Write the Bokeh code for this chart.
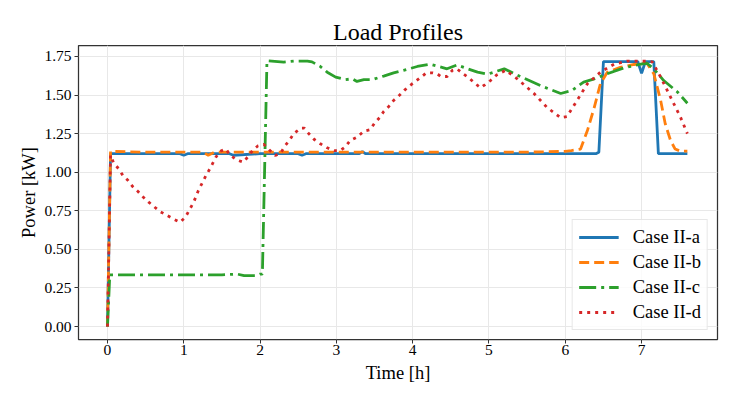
from bokeh.plotting import figure
from bokeh.models import Range1d, FixedTicker, NumeralTickFormatter, Legend, LegendItem
from bokeh.embed import file_html
from bokeh.resources import INLINE

# ---- data ----
t_a = [0, 0.04, 0.5, 0.95, 1.0, 1.05, 1.4, 1.6, 1.65, 2.0, 2.5, 2.55, 2.6, 3.0, 3.3, 3.34, 3.38,
       4.0, 4.5, 5.0, 5.5, 6.0, 6.4, 6.44, 6.5, 6.95, 7.0, 7.05, 7.16, 7.22, 7.6]
v_a = [0, 1.12, 1.12, 1.12, 1.11, 1.12, 1.12, 1.12, 1.11, 1.12, 1.12, 1.11, 1.12, 1.12, 1.12, 1.134, 1.12,
       1.12, 1.12, 1.12, 1.12, 1.12, 1.12, 1.13, 1.717, 1.717, 1.64, 1.717, 1.717, 1.12, 1.12]

t_b = [0, 0.04, 0.5, 1.0, 1.25, 1.32, 1.4, 2.0, 2.5, 3.0, 3.5, 4.0, 4.5, 5.0, 5.5, 6.0, 6.08, 6.2,
       6.29, 6.38, 6.46, 6.55, 6.72, 6.9, 7.07, 7.16, 7.25, 7.31, 7.38, 7.44, 7.51, 7.6]
v_b = [0, 1.135, 1.13, 1.13, 1.13, 1.11, 1.13, 1.13, 1.13, 1.13, 1.13, 1.13, 1.13, 1.13, 1.13, 1.135, 1.14, 1.15,
       1.27, 1.42, 1.573, 1.648, 1.68, 1.698, 1.706, 1.638, 1.465, 1.314, 1.205, 1.15, 1.136, 1.136]

t_c = [0, 0.03, 0.5, 1.0, 1.5, 1.7, 1.79, 1.95, 2.0, 2.03, 2.09, 2.31, 2.45, 2.62, 2.68, 2.79, 2.88, 2.99,
       3.12, 3.21, 3.27, 3.36, 3.47, 3.62, 3.75, 3.88, 4.06, 4.23, 4.34, 4.45, 4.58, 4.72, 4.85, 4.98,
       5.2, 5.41, 5.68, 5.94, 6.09, 6.24, 6.38, 6.55, 6.77, 6.99, 7.07, 7.16, 7.29, 7.47, 7.6]
v_c = [0, 0.335, 0.335, 0.335, 0.335, 0.34, 0.33, 0.33, 0.34, 0.34, 1.722, 1.713, 1.72, 1.72, 1.715, 1.685, 1.648, 1.616,
       1.60, 1.605, 1.588, 1.60, 1.60, 1.623, 1.644, 1.66, 1.685, 1.70, 1.685, 1.67, 1.695, 1.67, 1.648, 1.635,
       1.67, 1.62, 1.56, 1.51, 1.53, 1.584, 1.605, 1.638, 1.676, 1.70, 1.706, 1.67, 1.594, 1.52, 1.447]

t_d = [0, 0.04, 0.08, 0.15, 0.2, 0.27, 0.33, 0.40, 0.47, 0.54, 0.62, 0.69, 0.78, 0.88, 0.95, 1.02, 1.13,
       1.19, 1.28, 1.35, 1.42, 1.47, 1.55, 1.61, 1.69, 1.78, 1.84, 1.90, 1.97, 2.05, 2.13, 2.2, 2.27, 2.33,
       2.39, 2.44, 2.53, 2.58, 2.64, 2.71, 2.79, 2.88, 2.97, 3.05, 3.12, 3.18, 3.27, 3.36, 3.44, 3.50, 3.57,
       3.62, 3.69, 3.75, 3.83, 3.89, 3.96, 4.04, 4.11, 4.18, 4.26, 4.32, 4.37, 4.45, 4.52, 4.58, 4.66, 4.74,
       4.81, 4.89, 4.95, 5.02, 5.1, 5.22, 5.37, 5.59, 5.76, 5.94, 6.02, 6.11, 6.29, 6.46, 6.64, 6.81, 7.03,
       7.14, 7.25, 7.38, 7.51, 7.6]
v_d = [0, 1.11, 1.06, 1.02, 0.98, 0.946, 0.907, 0.875, 0.838, 0.806, 0.773, 0.745, 0.72, 0.693, 0.676, 0.708, 0.806,
       0.88, 0.968, 1.03, 1.097, 1.134, 1.15, 1.11, 1.08, 1.065, 1.10, 1.14, 1.17, 1.18, 1.14, 1.108, 1.125, 1.173,
       1.21, 1.249, 1.285, 1.285, 1.249, 1.212, 1.184, 1.158, 1.14, 1.14, 1.166, 1.205, 1.227, 1.266, 1.275, 1.318, 1.356,
       1.393, 1.428, 1.465, 1.50, 1.53, 1.56, 1.59, 1.616, 1.644, 1.644, 1.638, 1.62, 1.62, 1.66, 1.67, 1.638, 1.61,
       1.578, 1.547, 1.568, 1.594, 1.63, 1.66, 1.605, 1.51, 1.42, 1.353, 1.36, 1.43, 1.573, 1.648, 1.70, 1.72, 1.72,
       1.715, 1.616, 1.486, 1.356, 1.25]

labels = ["Case II-a", "Case II-b", "Case II-c", "Case II-d"]
x_ticks = [0, 1, 2, 3, 4, 5, 6, 7]
y_ticks = [0.0, 0.25, 0.5, 0.75, 1.0, 1.25, 1.5, 1.75]

FONT = "Liberation Serif"

p = figure(width=731, height=394, output_backend="svg", toolbar_location=None,
           x_range=Range1d(-0.38, 7.995), y_range=Range1d(-0.084, 1.821),
           min_border_left=78, min_border_right=14, min_border_top=45, min_border_bottom=55)

p.title.text = "Load Profiles"
p.title.align = "center"
p.title.text_font = FONT
p.title.text_font_size = "24px"
p.title.text_font_style = "normal"
p.title.text_color = "black"
p.title.standoff = 2

p.outline_line_color = "#333333"
p.outline_line_width = 1.25
p.background_fill_color = "white"
p.border_fill_color = "white"

for g in (p.xgrid, p.ygrid):
    g.grid_line_color = "#e8e8e8"
    g.grid_line_width = 1
p.xgrid.ticker = FixedTicker(ticks=x_ticks)
p.ygrid.ticker = FixedTicker(ticks=y_ticks)

p.xaxis.ticker = FixedTicker(ticks=x_ticks)
p.yaxis.ticker = FixedTicker(ticks=y_ticks)
p.yaxis.formatter = NumeralTickFormatter(format="0.00")
p.xaxis.axis_label = "Time [h]"
p.yaxis.axis_label = "Power [kW]"
for ax in (p.xaxis, p.yaxis):
    ax.axis_line_color = None
    ax.major_tick_line_color = "#333333"
    ax.major_tick_out = 4
    ax.major_tick_in = 0
    ax.minor_tick_line_color = None
    ax.major_label_text_font = FONT
    ax.major_label_text_font_size = "15.5px"
    ax.major_label_text_color = "black"
    ax.axis_label_text_font = FONT
    ax.axis_label_text_font_size = "18.5px"
    ax.axis_label_text_font_style = "normal"
    ax.axis_label_text_color = "black"
p.xaxis.major_label_standoff = 1
p.yaxis.major_label_standoff = 3
p.xaxis.axis_label_standoff = 5
p.yaxis.axis_label_standoff = 2

lw = 2.8
r_a = p.line(t_a, v_a, line_color="#1f77b4", line_width=lw)
r_b = p.line(t_b, v_b, line_color="#ff7f0e", line_width=lw, line_dash="10 5")
r_c = p.line(t_c, v_c, line_color="#2ca02c", line_width=lw, line_dash="17 5 3 5")
r_d = p.line(t_d, v_d, line_color="#d62728", line_width=lw, line_dash="3 5")

legend = Legend(items=[LegendItem(label=l, renderers=[r]) for l, r in zip(labels, [r_a, r_b, r_c, r_d])],
                location="bottom_right")
legend.margin = 9
legend.padding = 6
legend.spacing = 3
legend.glyph_width = 40
legend.glyph_height = 22
legend.label_standoff = 14
legend.label_text_font = FONT
legend.label_text_font_size = "18.5px"
legend.label_text_color = "black"
legend.border_line_color = "#d0d0d0"
legend.border_line_width = 1
legend.background_fill_color = "white"
legend.background_fill_alpha = 0.8
p.add_layout(legend)

open("out.html", "w").write(file_html(p, INLINE))
